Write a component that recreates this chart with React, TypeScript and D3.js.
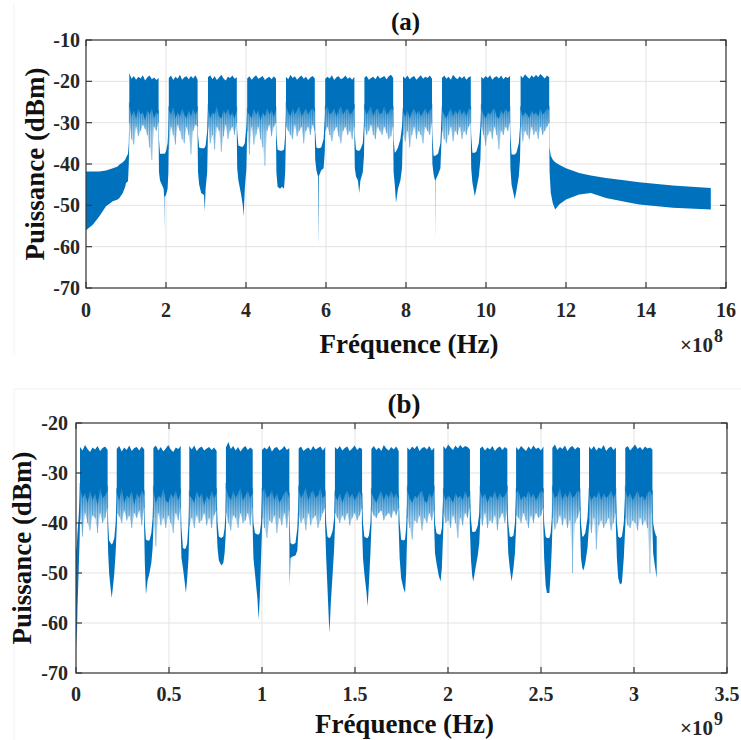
import React from 'react';
import * as d3 from 'd3';

type Tri = [number, number, number];

const BLUE = '#0072BD';

// ---------------- Panel (a) : frequency in units of 1e8 Hz ----------------
const xTicksA = [0, 2, 4, 6, 8, 10, 12, 14, 16];
const yTicksA = [-70, -60, -50, -40, -30, -20, -10];
const bandStartA = [1.083, 2.07, 3.05, 4.03, 5.0, 5.98, 6.96, 7.925, 8.9, 9.88, 10.865];
const bandEndA = [1.815, 2.79, 3.77, 4.75, 5.72, 6.71, 7.68, 8.65, 9.62, 10.6, 11.58];
const bandTopA: number[][] = [
  [-18.0, -19.4, -18.7, -19.6, -18.9, -19.3, -18.5, -19.8, -19.0, -18.6, -19.5, -19.1, -19.7, -19.2],
  [-19.2, -18.6, -19.7, -18.9, -19.4, -18.4, -19.6, -19.0, -18.8, -19.5, -18.7, -19.3, -18.5, -19.6],
  [-19.0, -18.5, -19.5, -18.8, -19.7, -19.1, -18.4, -19.3, -19.8, -18.9, -19.2, -18.6, -19.4, -19.0],
  [-19.3, -18.8, -19.6, -19.0, -18.5, -19.4, -19.1, -18.7, -19.7, -19.2, -18.9, -19.5, -18.8, -19.4],
  [-18.9, -19.5, -18.4, -19.2, -18.8, -19.6, -19.0, -18.6, -19.4, -18.9, -19.7, -19.1, -18.7, -19.3],
  [-19.4, -18.9, -19.3, -18.5, -19.7, -19.0, -18.8, -19.5, -19.2, -18.6, -19.4, -19.0, -19.6, -18.9],
  [-19.1, -18.7, -19.6, -19.2, -18.9, -19.5, -18.6, -19.3, -19.0, -18.7, -19.5, -18.8, -18.4, -19.2],
  [-18.8, -19.3, -18.6, -19.5, -19.0, -18.7, -19.6, -19.1, -18.5, -19.4, -18.9, -19.2, -18.6, -19.4],
  [-19.2, -18.6, -19.4, -18.9, -19.6, -18.4, -19.1, -19.5, -18.8, -19.3, -18.7, -19.6, -19.0, -18.8],
  [-18.9, -19.4, -18.7, -19.2, -18.5, -19.6, -19.0, -18.8, -19.3, -18.6, -19.5, -18.9, -19.2, -18.7],
  [-18.6, -19.2, -18.3, -18.9, -19.4, -18.5, -19.1, -18.4, -19.0, -18.2, -18.8, -19.3, -18.6, -19.0],
];
const bandDenseA: number[][] = [
  [-26.0, -28.5, -27.0, -29.0, -26.5, -28.0, -27.5, -29.5, -27.0, -28.0, -26.5, -29.0, -27.5, -28.0],
  [-27.0, -28.0, -26.0, -29.0, -27.5, -28.5, -26.5, -28.0, -29.0, -27.0, -28.5, -26.5, -28.0, -27.0],
  [-26.5, -29.0, -27.5, -28.0, -26.0, -28.5, -29.0, -27.0, -28.0, -26.5, -28.5, -27.5, -29.0, -27.0],
  [-27.5, -28.0, -29.0, -26.5, -28.0, -27.0, -29.5, -27.5, -28.5, -26.5, -28.0, -27.0, -28.5, -27.0],
  [-26.0, -27.5, -28.5, -26.5, -28.0, -27.0, -26.0, -28.5, -27.5, -26.5, -28.0, -27.0, -26.5, -27.5],
  [-27.0, -26.0, -28.0, -27.5, -26.5, -28.5, -27.0, -26.0, -28.0, -27.0, -26.5, -28.0, -27.5, -26.5],
  [-26.5, -28.0, -27.0, -26.0, -28.5, -27.0, -26.5, -28.0, -27.5, -26.0, -28.0, -27.5, -26.5, -27.0],
  [-27.5, -28.5, -27.0, -29.0, -27.5, -26.5, -28.0, -27.0, -28.5, -27.5, -26.5, -28.0, -27.0, -26.5],
  [-27.0, -28.0, -29.0, -27.5, -26.5, -28.5, -27.0, -28.0, -26.5, -28.0, -27.0, -28.5, -26.5, -27.0],
  [-26.5, -28.0, -29.0, -27.5, -28.0, -27.0, -26.5, -28.5, -29.0, -27.0, -28.0, -26.5, -27.5, -27.0],
  [-27.0, -28.5, -27.5, -28.0, -29.0, -27.0, -28.0, -27.5, -28.5, -26.5, -28.0, -27.5, -26.5, -27.0],
];
const bandSpikeA: number[][] = [
  [-30.0, -34.0, -35.3, -31.0, -33.3, -32.0, -30.5, -31.5, -33.0, -36.0, -39.0, -31.0, -32.0, -30.0],
  [-36.5, -31.0, -33.0, -35.3, -30.5, -32.0, -34.0, -35.0, -31.0, -33.0, -37.7, -32.0, -30.5, -31.0],
  [-31.0, -35.0, -33.0, -36.5, -31.0, -32.0, -37.0, -33.3, -30.5, -34.0, -32.0, -31.0, -33.0, -30.0],
  [-32.0, -37.7, -31.0, -35.3, -33.0, -31.0, -34.0, -36.0, -40.4, -32.0, -30.5, -33.3, -31.0, -30.0],
  [-31.0, -32.0, -33.0, -34.0, -30.5, -33.3, -32.0, -31.0, -35.0, -32.0, -31.0, -33.0, -30.5, -32.0],
  [-32.0, -31.0, -33.0, -34.5, -32.0, -31.0, -33.3, -35.0, -32.0, -31.0, -33.0, -32.0, -34.0, -31.0],
  [-31.0, -33.0, -32.0, -30.5, -33.0, -34.0, -31.0, -32.0, -33.0, -31.0, -32.5, -34.0, -33.3, -31.0],
  [-33.0, -34.5, -32.0, -36.0, -33.0, -31.0, -34.0, -32.0, -33.0, -35.0, -31.0, -32.0, -33.0, -30.0],
  [-32.0, -34.0, -35.0, -33.0, -31.0, -34.5, -32.0, -33.0, -31.0, -34.0, -32.0, -33.0, -31.0, -30.0],
  [-31.0, -33.0, -35.5, -33.0, -32.0, -34.0, -31.0, -33.0, -36.5, -32.0, -33.0, -31.0, -32.0, -30.0],
  [-31.0, -34.5, -32.0, -33.0, -34.0, -31.0, -33.0, -32.0, -34.0, -31.0, -33.0, -32.0, -31.0, -30.0],
];
// [frequency, upper dBm, lower dBm] outside the occupied bands
const bridgeA: Tri[][] = [
  [[0, -41.8, -56], [0.17, -41.8, -54.7], [0.33, -41.8, -52.7], [0.5, -41.6, -50.2], [0.67, -41.0, -49], [0.79, -40.6, -48.6], [0.83, -40.2, -48.3], [0.92, -39.6, -47], [0.98, -39, -45.5], [1.0, -38.5, -44.6], [1.05, -37.5, -44.2], [1.07, -35, -40], [1.085, -26, -33]],
  [[1.812, -27, -31], [1.825, -34, -42], [1.85, -37.5, -44], [1.94, -37.5, -46], [1.955, -37.5, -48], [1.96, -37.5, -56], [1.966, -37.5, -48], [2.0, -37, -47.5], [2.04, -35, -46], [2.06, -31, -42], [2.073, -26, -31]],
  [[2.787, -27, -31], [2.8, -33, -42], [2.83, -36, -45], [2.88, -36.2, -47], [2.95, -36.2, -47.5], [2.97, -36, -51.5], [2.99, -35.5, -46], [3.03, -32, -42], [3.052, -26, -31]],
  [[3.767, -27, -31], [3.78, -32, -41], [3.81, -35.5, -44], [3.88, -35.8, -47.5], [3.92, -35.8, -50], [3.94, -35.5, -52.7], [3.97, -35, -46], [4.01, -31, -41], [4.032, -26, -31]],
  [[4.747, -27, -31], [4.76, -33, -42], [4.79, -36.5, -45.5], [4.85, -36.8, -46], [4.9, -36.8, -45.5], [4.95, -36.5, -46], [4.98, -33, -42], [5.002, -27, -31]],
  [[5.717, -27, -31], [5.73, -32, -39], [5.76, -36, -41.5], [5.8, -36.2, -43], [5.81, -36.2, -60], [5.82, -36.2, -43], [5.88, -36, -41.5], [5.94, -34, -41], [5.97, -29, -37], [5.982, -26, -31]],
  [[6.707, -27, -31], [6.72, -33, -41], [6.75, -36.5, -43], [6.8, -36.8, -44], [6.83, -36.8, -47], [6.86, -36.5, -44], [6.92, -35, -42], [6.95, -30, -38], [6.962, -26, -31]],
  [[7.677, -27, -31], [7.69, -34, -42], [7.72, -37.3, -45], [7.75, -37, -49.4], [7.8, -36, -46], [7.86, -34, -44], [7.9, -31, -41], [7.927, -26, -31]],
  [[8.647, -27, -31], [8.66, -33, -40], [8.69, -38, -42.5], [8.725, -38, -44], [8.73, -38, -58.3], [8.735, -38, -44], [8.8, -37.5, -42.6], [8.86, -35, -41], [8.902, -26, -31]],
  [[9.617, -27, -31], [9.63, -33, -41], [9.66, -37.3, -44.5], [9.72, -37.3, -47.8], [9.76, -37, -46], [9.82, -35, -43], [9.86, -31, -39], [9.882, -26, -31]],
  [[10.597, -27, -31], [10.61, -33, -41], [10.64, -37.7, -45], [10.72, -37.7, -48.6], [10.76, -37.3, -46.5], [10.82, -35, -43], [10.85, -31, -39], [10.867, -26, -31]],
  [[11.577, -27, -31], [11.59, -36, -42], [11.62, -38, -47], [11.67, -39, -49.5], [11.73, -39.6, -51], [11.83, -40.2, -49.8], [12.0, -41, -48.6], [12.33, -42.2, -47.4], [12.62, -42.8, -47], [13.0, -43.4, -48.2], [13.5, -44, -49.2], [13.83, -44.4, -49.8], [14.67, -45.2, -50.6], [15.62, -45.8, -51]],
];

// ---------------- Panel (b) : frequency in units of 1e9 Hz ----------------
const xTicksB = [0, 0.5, 1, 1.5, 2, 2.5, 3, 3.5];
const yTicksB = [-70, -60, -50, -40, -30, -20];
const bandStartB = [0.0215, 0.219, 0.416, 0.609, 0.806, 1.0, 1.197, 1.392, 1.588, 1.781, 1.975, 2.172, 2.366, 2.561, 2.758, 2.953];
const bandEndB = [0.17, 0.367, 0.563, 0.756, 0.95, 1.147, 1.34, 1.538, 1.735, 1.926, 2.118, 2.319, 2.513, 2.71, 2.903, 3.099];
const bandTopB: number[][] = [
  [-24.8, -25.5, -24.4, -25.2, -25.8, -24.9, -25.3, -24.6, -25.6, -25.0, -24.7, -25.4],
  [-25.2, -24.6, -25.7, -24.9, -25.4, -24.5, -25.6, -25.0, -24.8, -25.5, -24.7, -25.3],
  [-25.0, -24.5, -25.5, -24.8, -25.7, -25.1, -24.4, -25.3, -25.8, -24.9, -25.2, -24.6],
  [-24.6, -25.3, -24.5, -25.6, -25.0, -24.7, -25.5, -25.1, -24.8, -25.4, -24.9, -25.6],
  [-24.9, -23.8, -25.2, -24.6, -25.5, -24.8, -25.7, -25.0, -24.6, -25.4, -24.9, -25.3],
  [-25.4, -24.9, -25.3, -24.5, -25.7, -25.0, -24.8, -25.5, -25.2, -24.6, -25.4, -25.0],
  [-25.1, -24.7, -25.6, -25.2, -24.9, -25.5, -24.6, -25.3, -25.0, -24.7, -25.5, -24.8],
  [-24.8, -25.3, -24.6, -25.5, -25.0, -24.7, -25.6, -25.1, -24.5, -25.4, -24.9, -25.2],
  [-25.2, -24.6, -25.4, -24.9, -25.6, -24.4, -25.1, -25.5, -24.8, -25.3, -24.7, -25.6],
  [-24.9, -25.4, -24.7, -25.2, -24.5, -25.6, -25.0, -24.8, -25.3, -24.6, -25.5, -24.9],
  [-24.6, -25.2, -24.3, -24.9, -25.4, -24.5, -25.1, -24.4, -25.0, -24.6, -24.8, -25.3],
  [-25.1, -24.7, -25.5, -24.9, -25.3, -24.6, -25.6, -25.0, -24.7, -25.4, -24.8, -25.2],
  [-24.8, -25.4, -24.6, -25.1, -25.6, -24.7, -25.3, -24.5, -25.2, -24.9, -25.5, -24.7],
  [-25.0, -24.3, -25.4, -24.8, -25.2, -24.5, -25.6, -24.9, -24.6, -25.3, -24.8, -25.1],
  [-24.7, -25.3, -24.6, -25.5, -24.9, -25.2, -24.4, -25.6, -25.0, -24.7, -25.4, -24.9],
  [-25.0, -24.6, -25.5, -24.9, -24.3, -25.2, -24.8, -25.4, -24.7, -25.1, -24.9, -25.3],
];
const bandDenseB: number[][] = [
  [-33.0, -35.0, -34.0, -36.0, -33.5, -35.5, -34.0, -36.5, -33.0, -35.0, -34.5, -33.5],
  [-34.0, -35.5, -33.0, -36.0, -34.5, -35.0, -33.5, -36.5, -34.0, -35.0, -33.5, -34.5],
  [-33.5, -36.0, -34.5, -35.0, -33.0, -35.5, -36.0, -34.0, -35.0, -33.5, -35.5, -34.0],
  [-34.5, -35.0, -36.0, -33.5, -35.0, -34.0, -36.5, -34.5, -35.5, -33.5, -35.0, -34.0],
  [-33.0, -34.5, -35.5, -33.5, -35.0, -34.0, -33.0, -35.5, -34.5, -33.5, -35.0, -34.0],
  [-34.0, -33.0, -35.0, -34.5, -33.5, -35.5, -34.0, -36.0, -35.0, -34.0, -33.5, -35.0],
  [-33.5, -35.0, -34.0, -33.0, -35.5, -34.0, -33.5, -35.0, -34.5, -33.0, -35.0, -34.5],
  [-34.5, -35.5, -34.0, -36.0, -34.5, -33.5, -35.0, -34.0, -35.5, -34.5, -33.5, -35.0],
  [-34.0, -35.0, -36.0, -34.5, -33.5, -35.5, -34.0, -35.0, -33.5, -35.0, -34.0, -35.5],
  [-33.5, -35.0, -36.0, -34.5, -35.0, -34.0, -33.5, -35.5, -36.0, -34.0, -35.0, -33.5],
  [-34.0, -35.5, -34.5, -35.0, -36.0, -34.0, -35.0, -34.5, -35.5, -33.5, -35.0, -34.5],
  [-33.5, -35.0, -34.0, -36.0, -34.5, -35.0, -33.5, -35.5, -34.0, -35.0, -34.5, -33.5],
  [-34.0, -33.5, -35.5, -34.5, -35.0, -33.5, -35.0, -34.0, -35.5, -34.5, -33.5, -34.0],
  [-33.5, -35.0, -34.5, -33.0, -35.5, -34.0, -35.0, -33.5, -35.0, -34.5, -33.5, -34.0],
  [-34.0, -35.5, -34.5, -35.0, -33.5, -35.5, -34.0, -35.0, -34.5, -33.5, -35.0, -34.0],
  [-33.5, -35.0, -34.0, -35.5, -34.5, -33.5, -35.0, -34.5, -35.5, -34.0, -33.5, -34.5],
];
const bandSpikeB: number[][] = [
  [-39.3, -42.7, -38.0, -40.0, -41.5, -38.5, -39.0, -42.0, -38.0, -40.0, -39.0, -37.0],
  [-38.0, -38.7, -40.0, -37.5, -39.5, -38.5, -41.0, -38.0, -39.0, -37.5, -40.5, -37.0],
  [-39.0, -44.7, -38.0, -40.5, -39.0, -41.0, -38.5, -40.0, -42.0, -38.0, -39.5, -37.0],
  [-40.7, -39.0, -41.0, -38.5, -40.0, -39.5, -38.0, -40.5, -39.0, -41.0, -38.5, -37.5],
  [-38.0, -40.0, -41.5, -38.5, -39.0, -41.0, -38.0, -40.0, -39.5, -38.0, -40.5, -37.0],
  [-39.0, -41.0, -43.0, -39.5, -40.0, -38.5, -42.0, -39.0, -40.5, -38.0, -41.0, -37.5],
  [-38.5, -40.0, -39.0, -41.5, -38.0, -40.5, -39.0, -38.5, -41.0, -39.5, -38.0, -37.0],
  [-38.0, -39.0, -40.0, -38.5, -39.5, -38.0, -40.5, -39.0, -38.0, -39.5, -38.5, -37.0],
  [-37.5, -38.5, -39.0, -38.0, -37.5, -39.5, -38.5, -38.0, -39.0, -37.5, -38.5, -37.0],
  [-39.0, -41.0, -43.3, -39.5, -40.0, -38.5, -41.5, -39.0, -40.0, -38.0, -39.5, -37.5],
  [-38.0, -40.0, -39.5, -41.0, -38.5, -40.0, -43.0, -39.0, -40.5, -38.0, -39.0, -37.0],
  [-39.0, -40.5, -38.0, -41.0, -39.5, -40.0, -38.5, -41.5, -39.0, -38.0, -40.0, -37.5],
  [-38.5, -39.0, -40.0, -38.0, -39.5, -41.0, -38.5, -40.0, -38.0, -39.0, -38.5, -37.0],
  [-39.0, -41.3, -40.0, -38.5, -40.5, -39.0, -41.0, -39.5, -50.0, -40.0, -39.0, -37.5],
  [-40.0, -42.0, -39.0, -45.3, -40.5, -39.5, -41.0, -40.0, -39.0, -41.5, -40.0, -38.0],
  [-39.0, -40.5, -41.0, -39.5, -40.0, -41.5, -39.0, -40.5, -39.5, -41.0, -50.0, -38.0],
];
const bridgeB: Tri[][] = [
  [[0, -45.5, -61], [0.004, -44.5, -64.7], [0.008, -42, -57], [0.014, -39, -50], [0.019, -35, -44], [0.023, -30, -37]],
  [[0.169, -33, -40], [0.173, -40, -46], [0.178, -43.5, -50], [0.186, -44, -53], [0.192, -44.3, -55], [0.198, -44, -53], [0.206, -43, -50], [0.213, -40, -46], [0.22, -33, -40]],
  [[0.366, -33, -40], [0.37, -40, -48], [0.376, -43.3, -54.3], [0.385, -43.5, -51.5], [0.395, -43.5, -50], [0.405, -42, -48], [0.412, -39, -45], [0.417, -33, -40]],
  [[0.562, -33, -40], [0.567, -41, -47], [0.575, -45, -49], [0.585, -45.2, -52], [0.591, -45, -54], [0.598, -44, -51], [0.605, -40, -47], [0.61, -33, -40]],
  [[0.755, -33, -40], [0.761, -40, -45], [0.768, -42.7, -47.5], [0.781, -43, -48.5], [0.792, -42.7, -48], [0.799, -41, -46], [0.804, -38, -43], [0.807, -33, -40]],
  [[0.949, -33, -40], [0.954, -40, -47], [0.962, -42, -50], [0.975, -42.3, -55], [0.982, -42.3, -59.3], [0.988, -42, -55], [0.995, -40, -47], [1.001, -33, -40]],
  [[1.146, -33, -40], [1.149, -40, -52.7], [1.153, -44, -47], [1.165, -44.3, -46.7], [1.18, -44, -46.5], [1.19, -41, -45.5], [1.198, -33, -40]],
  [[1.339, -33, -40], [1.345, -40, -47], [1.352, -42.7, -53], [1.36, -43, -60], [1.363, -43, -62], [1.37, -42.7, -56], [1.38, -41.5, -50], [1.388, -39, -45], [1.393, -33, -40]],
  [[1.537, -33, -40], [1.543, -40, -47], [1.55, -42.7, -50], [1.562, -43, -54], [1.568, -43, -56.7], [1.575, -42.5, -52], [1.583, -40, -46], [1.589, -33, -40]],
  [[1.734, -33, -40], [1.74, -40, -47], [1.748, -43.3, -51], [1.76, -43.5, -53], [1.769, -43.3, -54], [1.775, -41, -50], [1.782, -33, -40]],
  [[1.925, -33, -40], [1.93, -40, -46], [1.938, -42, -48], [1.95, -42.3, -50.5], [1.96, -42.3, -51.7], [1.967, -41, -49], [1.976, -33, -40]],
  [[2.117, -33, -40], [2.123, -39, -47], [2.13, -41.7, -50.5], [2.136, -41.8, -51.7], [2.148, -41.7, -49], [2.16, -40.5, -46.5], [2.168, -38, -44], [2.173, -33, -40]],
  [[2.318, -33, -40], [2.324, -40, -46], [2.332, -42.7, -49], [2.342, -42.8, -51.7], [2.352, -42.5, -49], [2.36, -40, -46], [2.367, -33, -40]],
  [[2.512, -33, -40], [2.517, -40, -47], [2.525, -42.7, -52.5], [2.532, -43, -54], [2.545, -43, -54], [2.552, -42, -50], [2.558, -39, -45], [2.562, -33, -40]],
  [[2.709, -33, -40], [2.715, -40, -47], [2.722, -42.7, -49], [2.728, -42.7, -49.5], [2.738, -42, -48], [2.75, -39, -45], [2.759, -33, -40]],
  [[2.902, -33, -40], [2.908, -40, -47], [2.915, -42.7, -51], [2.925, -43, -52.3], [2.935, -42.7, -52], [2.945, -40, -47], [2.954, -33, -40]],
  [[3.098, -33, -40], [3.103, -40, -46], [3.11, -41.5, -48], [3.118, -42.5, -50], [3.122, -42.7, -51]],
];

// ---------------- layout ----------------
const FONT = 'Liberation Serif';

const cfgA = {
  id: 'a', left: 86, right: 726, top: 40, bottom: 288,
  xDomain: [0, 16], yDomain: [-70, -10], xTicks: xTicksA, yTicks: yTicksA,
  bandStart: bandStartA, bandEnd: bandEndA, bandTop: bandTopA, bandDense: bandDenseA, bandSpike: bandSpikeA, bridge: bridgeA,
  denseLevel: -27, title: '(a)', titleX: 405.5, titleY: 30, titleSize: 25,
  tickLabelY: 316.5, yTickLabelX: 80, xLabelY: 353, yLabelX: 35,
  exp: '8', expY: 351.5, expSupY: 342,
};
const cfgB = {
  id: 'b', left: 76, right: 727, top: 423, bottom: 673,
  xDomain: [0, 3.5], yDomain: [-70, -20], xTicks: xTicksB, yTicks: yTicksB,
  bandStart: bandStartB, bandEnd: bandEndB, bandTop: bandTopB, bandDense: bandDenseB, bandSpike: bandSpikeB, bridge: bridgeB,
  denseLevel: -34, title: '(b)', titleX: 404, titleY: 412.5, titleSize: 27,
  tickLabelY: 700.5, yTickLabelX: 68, xLabelY: 733, yLabelX: 22,
  exp: '9', expY: 735, expSupY: 725,
};

function Panel({ cfg }: { cfg: typeof cfgA }) {
  const x = d3.scaleLinear().domain(cfg.xDomain).range([cfg.left, cfg.right]);
  const y = d3.scaleLinear().domain(cfg.yDomain).range([cfg.bottom, cfg.top]);
  const area = d3.area<Tri>().x((d) => x(d[0])).y0((d) => y(d[2])).y1((d) => y(d[1]));
  const bands = cfg.bandStart.map((s, i) => {
    const e = cfg.bandEnd[i];
    const n = cfg.bandTop[i].length;
    const pos = d3.scaleLinear().domain([0, n - 1]).range([s, e]);
    const solid: Tri[] = cfg.bandTop[i].map((t, j) => [pos(j), t, cfg.bandDense[i][j]]);
    const light: Tri[] = cfg.bandDense[i].map((dd, j) => [pos(j), dd + 1, cfg.bandSpike[i][j]]);
    return { solid, light };
  });
  const clip = `clip-${cfg.id}`;
  const grad = `grad-${cfg.id}`;
  const midX = (cfg.left + cfg.right) / 2;
  const midY = (cfg.top + cfg.bottom) / 2;
  const axisColor = '#3a3a3a';
  const tick = 6;
  return (
    <g>
      <defs>
        <clipPath id={clip}>
          <rect x={cfg.left} y={cfg.top} width={cfg.right - cfg.left} height={cfg.bottom - cfg.top} />
        </clipPath>
        <linearGradient id={grad} gradientUnits="userSpaceOnUse" x1={0} x2={0} y1={y(cfg.denseLevel)} y2={y(cfg.denseLevel - 12)}>
          <stop offset="0" stopColor={BLUE} stopOpacity={0.75} />
          <stop offset="0.45" stopColor={BLUE} stopOpacity={0.3} />
          <stop offset="1" stopColor={BLUE} stopOpacity={0.08} />
        </linearGradient>
      </defs>
      <rect x={cfg.left} y={cfg.top} width={cfg.right - cfg.left} height={cfg.bottom - cfg.top} fill="#fff" />
      {/* grid */}
      <g stroke="#e3e3e3" strokeWidth={1}>
        {cfg.xTicks.map((t) => (
          <line key={'gx' + t} x1={x(t)} x2={x(t)} y1={cfg.top} y2={cfg.bottom} />
        ))}
        {cfg.yTicks.map((t) => (
          <line key={'gy' + t} x1={cfg.left} x2={cfg.right} y1={y(t)} y2={y(t)} />
        ))}
      </g>
      {/* data */}
      <g clipPath={`url(#${clip})`}>
        {cfg.bridge.map((seg, i) => (
          <path key={'br' + i} d={area(seg) || ''} fill={BLUE} />
        ))}
        {bands.map((b, i) => (
          <g key={'band' + i}>
            <path d={area(b.light) || ''} fill={`url(#${grad})`} />
            {b.light.map((d, j) => (
              <line key={j} x1={x(d[0])} x2={x(d[0])} y1={y(d[1])} y2={y(d[2])} stroke={BLUE} strokeOpacity={0.45} strokeWidth={1} />
            ))}
            <path d={area(b.solid) || ''} fill={BLUE} />
          </g>
        ))}
      </g>
      {/* axes box and ticks */}
      <rect x={cfg.left} y={cfg.top} width={cfg.right - cfg.left} height={cfg.bottom - cfg.top} fill="none" stroke={axisColor} strokeWidth={1.2} />
      <g stroke={axisColor} strokeWidth={1.2}>
        {cfg.xTicks.map((t) => (
          <g key={'tx' + t}>
            <line x1={x(t)} x2={x(t)} y1={cfg.bottom} y2={cfg.bottom - tick} />
            <line x1={x(t)} x2={x(t)} y1={cfg.top} y2={cfg.top + tick} />
          </g>
        ))}
        {cfg.yTicks.map((t) => (
          <g key={'ty' + t}>
            <line x1={cfg.left} x2={cfg.left + tick} y1={y(t)} y2={y(t)} />
            <line x1={cfg.right} x2={cfg.right - tick} y1={y(t)} y2={y(t)} />
          </g>
        ))}
      </g>
      {/* tick labels */}
      <g fontFamily={FONT} fontWeight="bold" fontSize={20} fill="#262626">
        {cfg.xTicks.map((t) => (
          <text key={'lx' + t} x={x(t)} y={cfg.tickLabelY} textAnchor="middle">{String(t)}</text>
        ))}
        {cfg.yTicks.map((t) => (
          <text key={'ly' + t} x={cfg.yTickLabelX} y={y(t)} dy="0.35em" textAnchor="end">{String(t)}</text>
        ))}
      </g>
      {/* labels */}
      <g fontFamily={FONT} fontWeight="bold" fill="#111">
        <text x={midX + 3} y={cfg.xLabelY} textAnchor="middle" fontSize={27}>Fréquence (Hz)</text>
        <text transform={`translate(${cfg.yLabelX},${midY}) rotate(-90)`} textAnchor="middle" dy="0.33em" fontSize={27}>Puissance (dBm)</text>
        <text x={cfg.titleX} y={cfg.titleY} textAnchor="middle" fontSize={cfg.titleSize}>{cfg.title}</text>
        <text x={713} y={cfg.expY} textAnchor="end" fontSize={21} fill="#262626">×10</text>
        <text x={714} y={cfg.expSupY} fontSize={18} fill="#262626">{cfg.exp}</text>
      </g>
    </g>
  );
}

export default function App() {
  return (
    <svg width={741} height={740} style={{ position: 'absolute', left: 0, top: 0 }}>
      <rect width={741} height={740} fill="#fff" />
      <g stroke="#f2f2f2" strokeWidth={1} fill="none">
        <line x1={14} x2={14} y1={4} y2={355} />
        <line x1={14} x2={741} y1={389} y2={389} />
        <line x1={14} x2={14} y1={389} y2={740} />
      </g>
      <Panel cfg={cfgA} />
      <Panel cfg={cfgB} />
    </svg>
  );
}
